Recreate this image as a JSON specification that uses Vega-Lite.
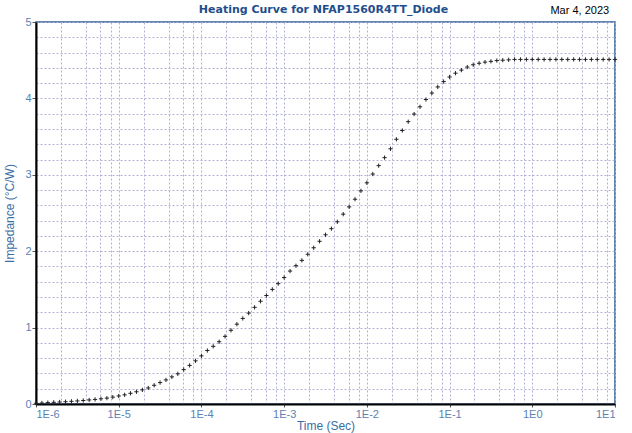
{
  "$schema": "https://vega.github.io/schema/vega-lite/v6.json",
  "width": 579,
  "height": 382,
  "autosize": {"type": "none"},
  "padding": {"left": 36, "top": 22, "right": 17, "bottom": 29},
  "background": "white",
  "config": {
    "view": {"stroke": "#2f5f96", "strokeWidth": 1.5},
    "axis": {"labelFont": "Liberation Sans", "labelFontSize": 11, "labelColor": "#5a82b4", "titleFont": "Liberation Sans", "titleFontSize": 12, "titleFontWeight": "normal", "titleColor": "#3b6ea5", "domainColor": "#000000", "domainWidth": 2, "tickColor": "#555555", "tickSize": 4, "gridColor": "#b0b0d4", "gridDash": [2, 2], "gridWidth": 1, "gridOpacity": 1, "tickCount": 200}
  },
  "title": {"text": "Heating Curve for NFAP1560R4TT_Diode", "font": "DejaVu Sans", "fontSize": 11, "fontWeight": "bold", "color": "#1f4e8c", "anchor": "middle", "frame": "group", "offset": -10, "dx": -2},
  "data": {"values": [
    {"t": 1e-6, "z": 0.01}, {"t": 1.17877e-6, "z": 0.013}, {"t": 1.3895e-6, "z": 0.018}, {"t": 1.63789e-6, "z": 0.022}, {"t": 1.9307e-6, "z": 0.026}, {"t": 2.27585e-6, "z": 0.03}, {"t": 2.6827e-6, "z": 0.035}, {"t": 3.16228e-6, "z": 0.04}, {"t": 3.72759e-6, "z": 0.046}, {"t": 4.39397e-6, "z": 0.053}, {"t": 5.17947e-6, "z": 0.06}, {"t": 6.1054e-6, "z": 0.068}, {"t": 7.19686e-6, "z": 0.077}, {"t": 8.48343e-6, "z": 0.09},
    {"t": 1e-5, "z": 0.105}, {"t": 1.17877e-5, "z": 0.12}, {"t": 1.3895e-5, "z": 0.14}, {"t": 1.63789e-5, "z": 0.16}, {"t": 1.9307e-5, "z": 0.185}, {"t": 2.27585e-5, "z": 0.21}, {"t": 2.6827e-5, "z": 0.245}, {"t": 3.16228e-5, "z": 0.28}, {"t": 3.72759e-5, "z": 0.315}, {"t": 4.39397e-5, "z": 0.355}, {"t": 5.17947e-5, "z": 0.395}, {"t": 6.1054e-5, "z": 0.45}, {"t": 7.19686e-5, "z": 0.505}, {"t": 8.48343e-5, "z": 0.565},
    {"t": 1e-4, "z": 0.63}, {"t": 1.17877e-4, "z": 0.7}, {"t": 1.3895e-4, "z": 0.755}, {"t": 1.63789e-4, "z": 0.815}, {"t": 1.9307e-4, "z": 0.885}, {"t": 2.27585e-4, "z": 0.965}, {"t": 2.6827e-4, "z": 1.045}, {"t": 3.16228e-4, "z": 1.12}, {"t": 3.72759e-4, "z": 1.19}, {"t": 4.39397e-4, "z": 1.265}, {"t": 5.17947e-4, "z": 1.345}, {"t": 6.1054e-4, "z": 1.42}, {"t": 7.19686e-4, "z": 1.5}, {"t": 8.48343e-4, "z": 1.575},
    {"t": 1e-3, "z": 1.655}, {"t": 1.17877e-3, "z": 1.74}, {"t": 1.3895e-3, "z": 1.81}, {"t": 1.63789e-3, "z": 1.88}, {"t": 1.9307e-3, "z": 1.96}, {"t": 2.27585e-3, "z": 2.045}, {"t": 2.6827e-3, "z": 2.13}, {"t": 3.16228e-3, "z": 2.215}, {"t": 3.72759e-3, "z": 2.295}, {"t": 4.39397e-3, "z": 2.385}, {"t": 5.17947e-3, "z": 2.485}, {"t": 6.1054e-3, "z": 2.58}, {"t": 7.19686e-3, "z": 2.68}, {"t": 8.48343e-3, "z": 2.79},
    {"t": 1e-2, "z": 2.895}, {"t": 1.17877e-2, "z": 3.01}, {"t": 1.3895e-2, "z": 3.12}, {"t": 1.63789e-2, "z": 3.225}, {"t": 1.9307e-2, "z": 3.34}, {"t": 2.27585e-2, "z": 3.465}, {"t": 2.6827e-2, "z": 3.58}, {"t": 3.16228e-2, "z": 3.695}, {"t": 3.72759e-2, "z": 3.795}, {"t": 4.39397e-2, "z": 3.89}, {"t": 5.17947e-2, "z": 3.985}, {"t": 6.1054e-2, "z": 4.07}, {"t": 7.19686e-2, "z": 4.15}, {"t": 8.48343e-2, "z": 4.22},
    {"t": 1e-1, "z": 4.28}, {"t": 1.17877e-1, "z": 4.33}, {"t": 1.3895e-1, "z": 4.37}, {"t": 1.63789e-1, "z": 4.41}, {"t": 1.9307e-1, "z": 4.44}, {"t": 2.27585e-1, "z": 4.46}, {"t": 2.6827e-1, "z": 4.475}, {"t": 3.16228e-1, "z": 4.485}, {"t": 3.72759e-1, "z": 4.495}, {"t": 4.39397e-1, "z": 4.5}, {"t": 5.17947e-1, "z": 4.505}, {"t": 6.1054e-1, "z": 4.51}, {"t": 7.19686e-1, "z": 4.51}, {"t": 8.48343e-1, "z": 4.51},
    {"t": 1, "z": 4.51}, {"t": 1.17877, "z": 4.51}, {"t": 1.3895, "z": 4.51}, {"t": 1.63789, "z": 4.51}, {"t": 1.9307, "z": 4.51}, {"t": 2.27585, "z": 4.51}, {"t": 2.6827, "z": 4.51}, {"t": 3.16228, "z": 4.51}, {"t": 3.72759, "z": 4.51}, {"t": 4.39397, "z": 4.51}, {"t": 5.17947, "z": 4.51}, {"t": 6.1054, "z": 4.51}, {"t": 7.19686, "z": 4.51}, {"t": 8.48343, "z": 4.51},
    {"t": 10, "z": 4.51}
  ]},
  "layer": [
    {
      "mark": {"type": "point", "shape": "M-1,0L1,0M0,-1L0,1", "size": 18, "filled": false, "stroke": "#222222", "strokeWidth": 1, "opacity": 1, "clip": false},
      "encoding": {
        "x": {"field": "t", "type": "quantitative", "scale": {"type": "log", "domain": [1e-6, 10], "nice": false},
          "axis": {"title": "Time (Sec)", "titlePadding": 1, "tickCount": 200,
            "values": [1e-6, 2e-6, 4e-6, 6e-6, 8e-6, 1e-5, 2e-5, 4e-5, 6e-5, 8e-5, 1e-4, 2e-4, 4e-4, 6e-4, 8e-4, 1e-3, 2e-3, 4e-3, 6e-3, 8e-3, 1e-2, 2e-2, 4e-2, 6e-2, 8e-2, 1e-1, 2e-1, 4e-1, 6e-1, 8e-1, 1, 2, 4, 6, 8, 10],
            "labelExpr": "abs(log(datum.value)/LN10 - round(log(datum.value)/LN10)) < 1e-6 ? '1E' + round(log(datum.value)/LN10) : ''",
            "labelOverlap": false, "labelPadding": 1, "tickSize": 3,
            "tickOpacity": {"condition": {"test": "abs(log(datum.value)/LN10 - round(log(datum.value)/LN10)) < 1e-6", "value": 1}, "value": 0}}},
        "y": {"field": "z", "type": "quantitative", "scale": {"domain": [0, 5], "nice": false},
          "axis": {"title": "Impedance (°C/W)", "titlePadding": 8, "tickCount": 200,
            "values": [0, 0.2, 0.4, 0.6, 0.8, 1, 1.2, 1.4, 1.6, 1.8, 2, 2.2, 2.4, 2.6, 2.8, 3, 3.2, 3.4, 3.6, 3.8, 4, 4.2, 4.4, 4.6, 4.8, 5],
            "labelExpr": "datum.value % 1 === 0 ? datum.value : ''",
            "labelOverlap": false, "labelPadding": 1,
            "tickOpacity": {"condition": {"test": "datum.value % 1 === 0", "value": 1}, "value": 0}}}
      }
    },
    {
      "data": {"values": [{"label": "Mar 4, 2023", "t": 8.5, "z": 5}]},
      "mark": {"type": "text", "align": "right", "baseline": "alphabetic", "dy": -8, "font": "Liberation Sans", "fontSize": 11, "color": "#000000", "clip": false},
      "encoding": {
        "x": {"field": "t", "type": "quantitative"},
        "y": {"field": "z", "type": "quantitative"},
        "text": {"field": "label"}
      }
    }
  ]
}
